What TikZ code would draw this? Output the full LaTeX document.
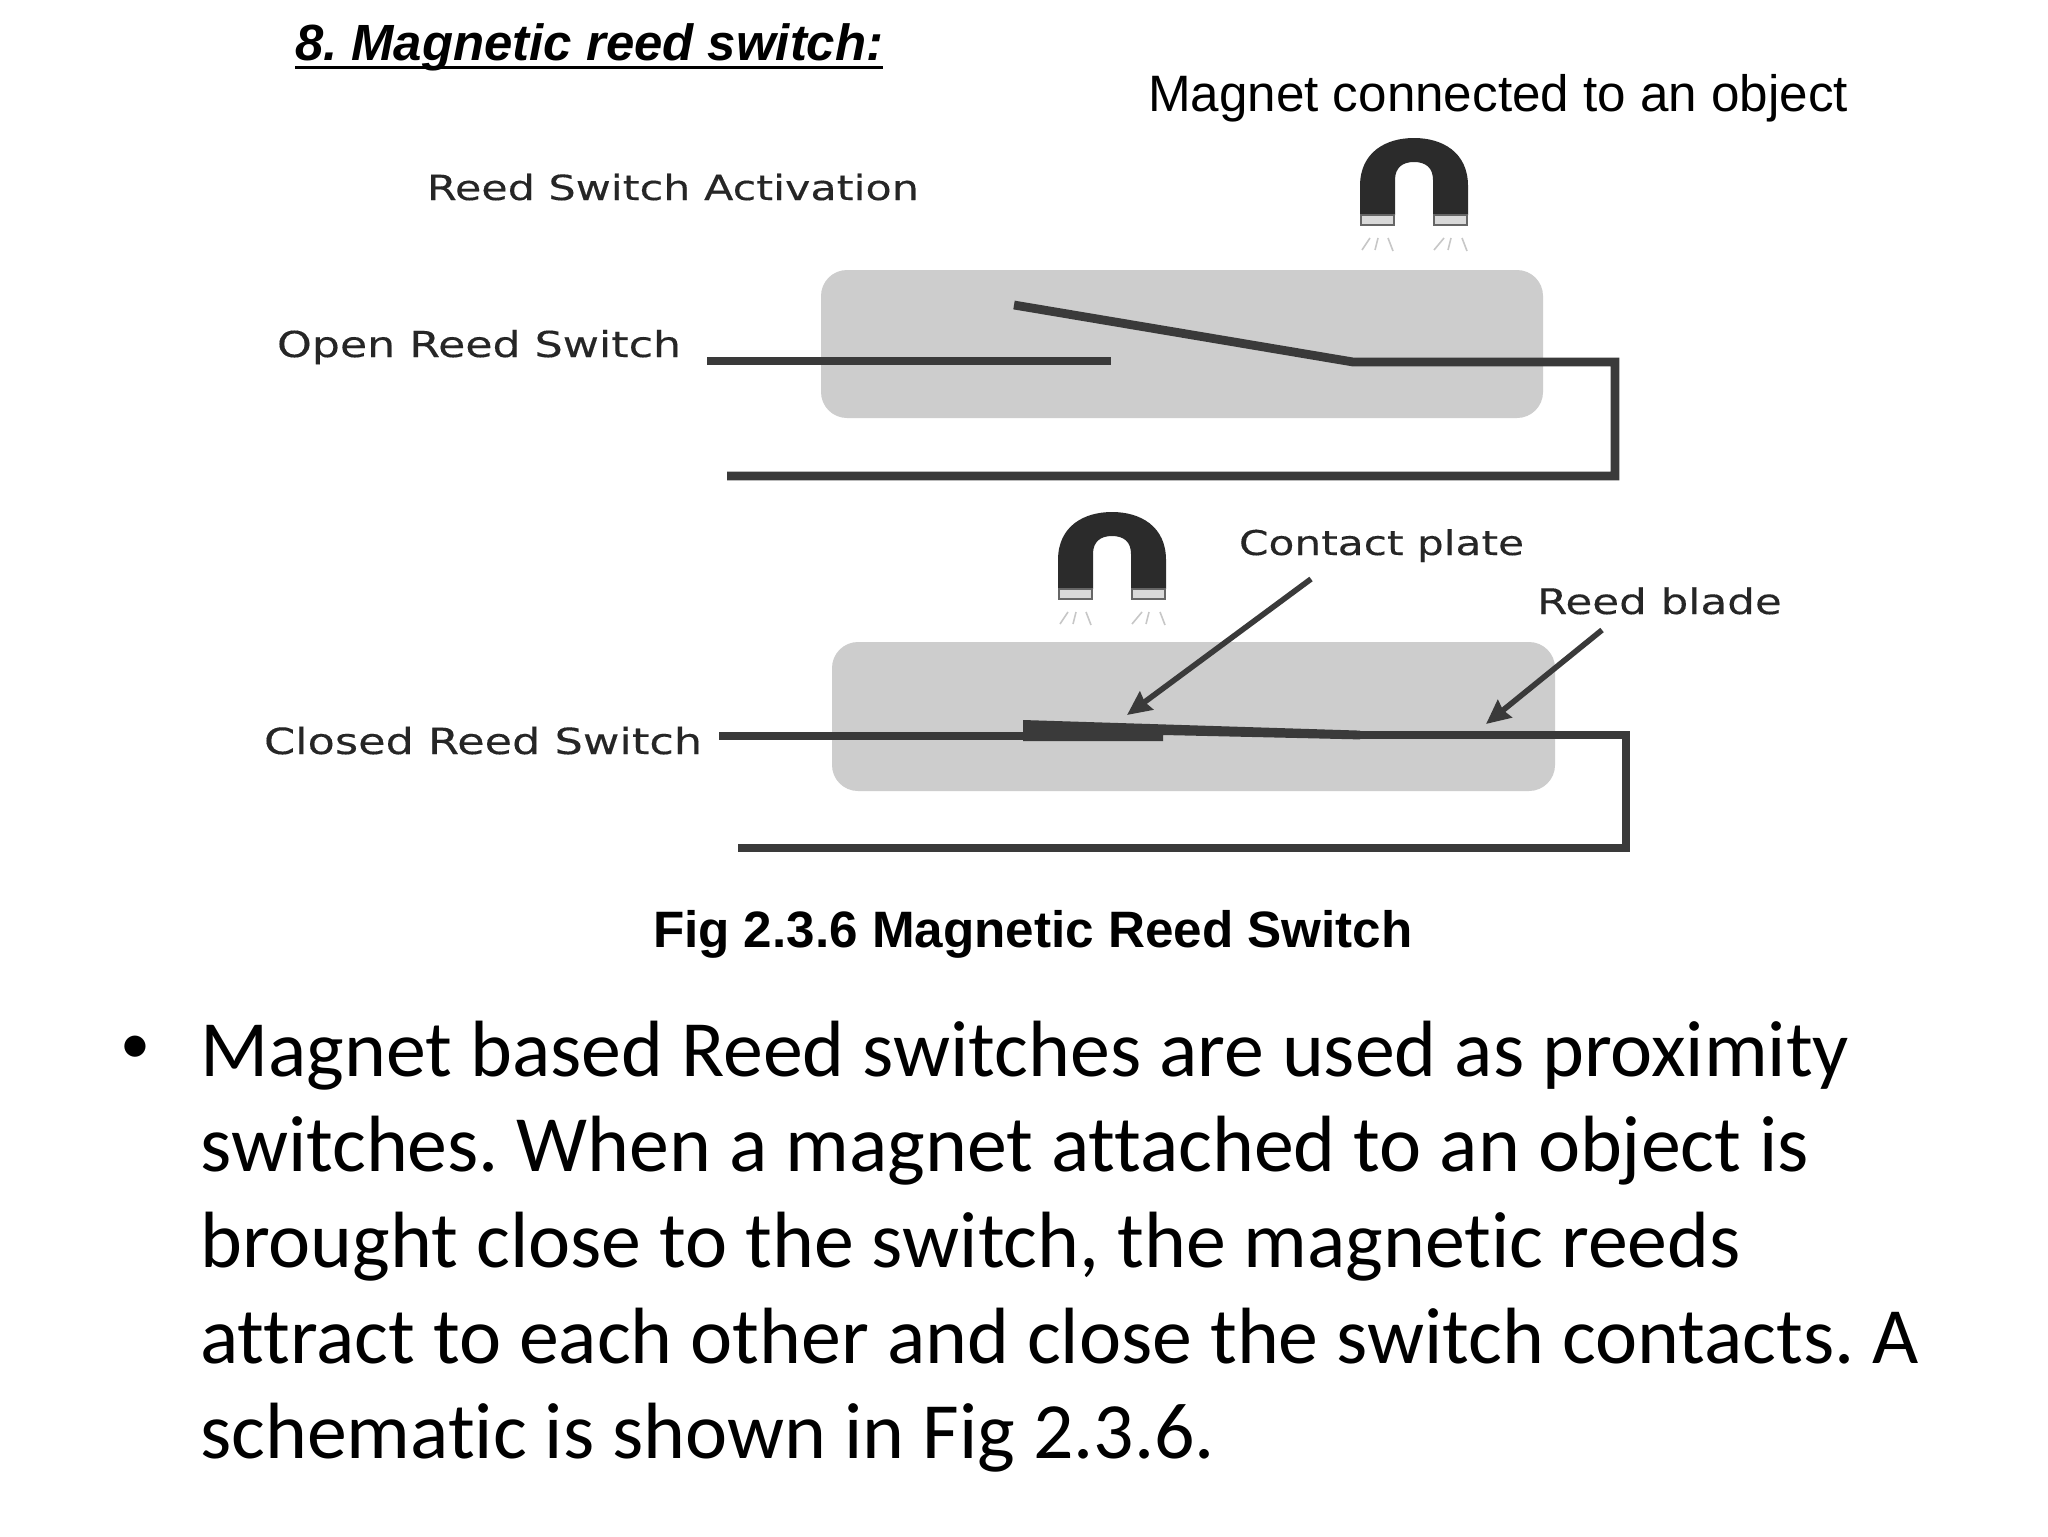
\documentclass[tikz,border=0pt]{standalone}
\usepackage{fontspec}
\setmainfont{Liberation Sans}
\newfontfamily\labelfont[FakeStretch=1.24,FakeBold=0.25]{DejaVu Sans}
\newfontfamily\bodyfont[Ligatures=NoCommon]{Carlito}
\usetikzlibrary{arrows.meta}
\definecolor{panelgray}{HTML}{CDCDCD}
\definecolor{wiregray}{HTML}{3A3A3A}
\definecolor{magnetdark}{HTML}{2B2B2B}
\newcommand{\labelsize}[1]{\labelfont\fontsize{#1}{20}\selectfont}
\tikzset{
  x=0.5pt,y=-0.5pt,
  txt/.style={anchor=base west,inner sep=0pt,outer sep=0pt,text=black},
  diagramlabel/.style={txt,font=\labelsize{#1},text=black!85},
  panel/.style={fill=panelgray,draw=none,rounded corners=13pt},
  wire/.style={draw=wiregray,line width=4.4pt,line join=miter},
  pointer/.style={draw=wiregray,line width=2.8pt,-{Stealth[length=12pt,width=11pt,inset=1pt]}},
  field/.style={draw=black!22,line width=.8pt},
  pics/magnet/.style={code={
    \fill[magnetdark] (0,77) -- (0,48) .. controls (0,14) and (26,0) .. (54,0) .. controls (82,0) and (108,14) .. (108,48) -- (108,77) -- (73,77) -- (73,42) .. controls (73,30) and (66,24) .. (54,24) .. controls (42,24) and (35,30) .. (35,42) -- (35,77) -- cycle;
    \draw[fill=black!15,draw=black!60,line width=.8pt] (1,77) rectangle (34,87);
    \draw[fill=black!15,draw=black!60,line width=.8pt] (74,77) rectangle (107,87);
    \draw[field] (2,112) -- (10,100) (15,112) -- (18,100) (33,113) -- (28,100);
    \draw[field] (74,112) -- (84,100) (88,112) -- (91,100) (107,113) -- (102,100);
  }}
}
\begin{document}
\begin{tikzpicture}
\frenchspacing
\useasboundingbox (0,0) rectangle (2048,1536);
\fill[white] (0,0) rectangle (2048,1536);

% title
\node[txt,font=\bfseries\itshape\fontsize{25.45}{30}\selectfont] (title) at (295,61) {8. Magnetic reed switch:};
\draw[line width=1.3pt] ([yshift=-3.2pt]title.base west) -- ([yshift=-3.2pt]title.base east);
\node[txt,font=\fontsize{25.6}{32}\selectfont] (objlabel) at (1148,112) {Magnet connected to an object};

% top panel
\node[diagramlabel=17.3] (activation) at (427,200) {Reed Switch Activation};
\node[diagramlabel=17.85] (openlabel) at (277,357) {Open Reed Switch};
\path[panel] (821,270) rectangle (1543,418);
\pic at (1360,138) {magnet};
\draw[wire] (707,361) -- (1111,361);
\draw[wire] (1014,305) -- (1353,362) -- (1615,362) -- (1615,476) -- (727,476);

% bottom panel
\pic at (1058,512) {magnet};
\node[diagramlabel=17.05] (contactlabel) at (1239,555) {Contact plate};
\node[diagramlabel=17.6] (bladelabel) at (1537,614) {Reed blade};
\node[diagramlabel=18] (closedlabel) at (264,754) {Closed Reed Switch};
\path[panel] (832,642) rectangle (1555,791);
\draw[wire] (719,736) -- (1023,736);
\fill[wiregray] (1023,720) -- (1360,730.6) -- (1360,739.4) -- (1163,735) -- (1163,741) -- (1023,741) -- cycle;
\draw[wire] (1358,735) -- (1626,735) -- (1626,848) -- (738,848);
\coordinate (platetip) at (1127,715);
\coordinate (bladetip) at (1486,724);
\coordinate (platefrom) at (1311,579);
\coordinate (bladefrom) at (1602,630);
\draw[pointer] (platefrom) -- (platetip);
\draw[pointer] (bladefrom) -- (bladetip);

\node[txt,font=\bfseries\fontsize{25.6}{30}\selectfont] (caption) at (653,947) {Fig 2.3.6 Magnetic Reed Switch};

% body
\node[anchor=center,inner sep=0pt,font=\bodyfont\fontsize{30}{48}\selectfont] (bullet) at (135,1050) {•};
\node[anchor=north west,inner sep=0pt,align=left,font=\bodyfont\fontsize{39.9}{47.8}\selectfont] (body) at (200,1020.5) {Magnet based Reed switches are used as proximity\\switches. When a magnet attached to an object is\\brought close to the switch, the magnetic reeds\\attract to each other and close the switch contacts. A\\schematic is shown in Fig 2.3.6.};
\end{tikzpicture}
\end{document}
